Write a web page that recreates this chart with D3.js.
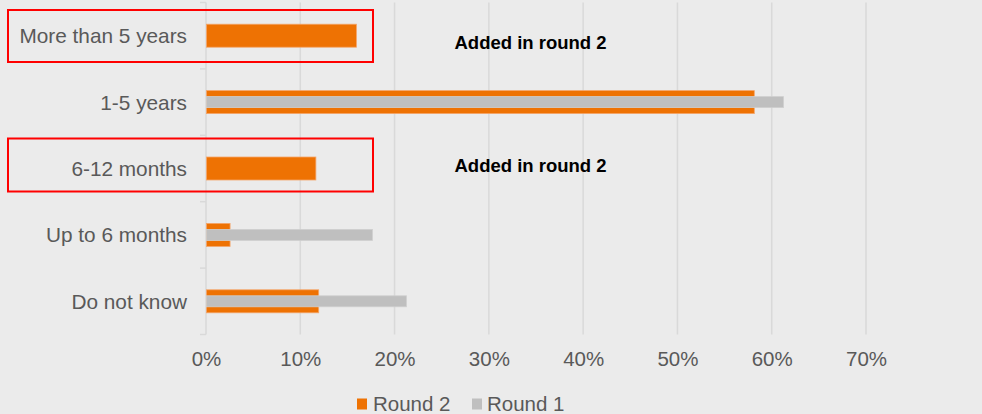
<!DOCTYPE html>
<html>
<head>
<meta charset="utf-8">
<script src="https://cdn.jsdelivr.net/npm/d3@7"></script>
<style>
  html, body { margin: 0; padding: 0; background: #ebebeb; }
  svg { display: block; font-family: "Liberation Sans", Arial, sans-serif; }
</style>
</head>
<body>
<svg id="chart" width="982" height="414"></svg>
<script>
// Answer categories, top to bottom
const categories = ["More than 5 years", "1-5 years", "6-12 months", "Up to 6 months", "Do not know"];
// Share of respondents (%); null = option not offered in that round
const round2 = [15.9, 58.1, 11.6, 2.5, 11.9];
const round1 = [null, 61.2, null, 17.6, 21.2];
const xTicks = [0, 10, 20, 30, 40, 50, 60, 70];
const seriesNames = ["Round 2", "Round 1"];
const highlighted = ["More than 5 years", "6-12 months"];
const noteText = "Added in round 2";

const colors = { "Round 2": "#ee7203", "Round 1": "#bfbfbf" };
const strokes = { "Round 2": "#f4a56a", "Round 1": "#cfcfcf" };

const svg = d3.select("#chart");
const W = 982, H = 414;
svg.append("rect").attr("width", W).attr("height", H).attr("fill", "#ebebeb");

const x = d3.scaleLinear().domain([0, 70]).range([206, 866]);
const y = d3.scaleBand().domain(categories).range([2.5, 334.5]).paddingInner(0).paddingOuter(0);

// Vertical gridlines
svg.append("g").selectAll("line").data(xTicks).join("line")
  .attr("x1", d => x(d)).attr("x2", d => x(d))
  .attr("y1", 2.5).attr("y2", 334.5)
  .attr("stroke", "#d9d9d9").attr("stroke-width", 1.5);

// Category axis with tick marks between bands
const boundaries = categories.map(c => y(c)).concat([y.range()[1]]);
svg.append("g").selectAll("line").data(boundaries).join("line")
  .attr("x1", 200).attr("x2", x(0))
  .attr("y1", d => d).attr("y2", d => d)
  .attr("stroke", "#d9d9d9").attr("stroke-width", 1.5);

const xAxis = svg.append("g").attr("transform", "translate(0,334.5)")
  .call(d3.axisBottom(x).tickValues(xTicks).tickFormat(d => d + "%").tickSize(0).tickPadding(16.5));
xAxis.select(".domain").remove();
xAxis.selectAll("text").attr("fill", "#595959").style("font-size", "20.5px")
  .style("font-family", "'Liberation Sans', Arial, sans-serif");

const yAxis = svg.append("g").attr("transform", `translate(${x(0)},0)`)
  .call(d3.axisLeft(y).tickSize(0).tickPadding(19));
yAxis.select(".domain").remove();
yAxis.selectAll("text").attr("fill", "#595959").style("font-size", "20.8px")
  .attr("dy", "0.36em")
  .style("font-family", "'Liberation Sans', Arial, sans-serif");

// Bars: Round 2 wide, Round 1 narrow and overlaid in the middle
const bw = y.bandwidth();
const wideH = 23, narrowH = 11;
svg.append("g").selectAll("rect").data(categories.map((c, i) => ({ c, v: round2[i] })).filter(d => d.v != null))
  .join("rect")
  .attr("x", x(0) + 0.5)
  .attr("y", d => y(d.c) + bw / 2 - wideH / 2)
  .attr("width", d => x(d.v) - x(0))
  .attr("height", wideH)
  .attr("fill", colors["Round 2"]).attr("stroke", strokes["Round 2"]).attr("stroke-width", 0.8);

svg.append("g").selectAll("rect").data(categories.map((c, i) => ({ c, v: round1[i] })).filter(d => d.v != null))
  .join("rect")
  .attr("x", x(0) + 0.5)
  .attr("y", d => y(d.c) + bw / 2 - narrowH / 2)
  .attr("width", d => x(d.v) - x(0))
  .attr("height", narrowH)
  .attr("fill", colors["Round 1"]).attr("stroke", strokes["Round 1"]).attr("stroke-width", 0.8);

// Highlight boxes and notes for options added in round 2
const boxY = { "More than 5 years": [10, 62], "6-12 months": [138.5, 191.5] };
const noteY = { "More than 5 years": 49, "6-12 months": 172.3 };
highlighted.forEach(c => {
  const [t, b] = boxY[c];
  svg.append("rect").attr("x", 8).attr("y", t).attr("width", 365).attr("height", b - t)
    .attr("fill", "none").attr("stroke", "#ff0000").attr("stroke-width", 2);
  svg.append("text").attr("x", 454.5).attr("y", noteY[c])
    .attr("fill", "#000").style("font-size", "18.5px").style("font-weight", "bold")
    .text(noteText);
});

// Legend
const legendItems = [
  { name: seriesNames[0], sx: 357, tx: 373 },
  { name: seriesNames[1], sx: 472, tx: 487 }
];
const lg = svg.append("g");
legendItems.forEach(d => {
  lg.append("rect").attr("x", d.sx).attr("y", 398.5).attr("width", 10).attr("height", 11)
    .attr("fill", colors[d.name]);
  lg.append("text").attr("x", d.tx).attr("y", 410.5).attr("fill", "#595959")
    .style("font-size", "20.5px").text(d.name);
});
</script>
</body>
</html>
